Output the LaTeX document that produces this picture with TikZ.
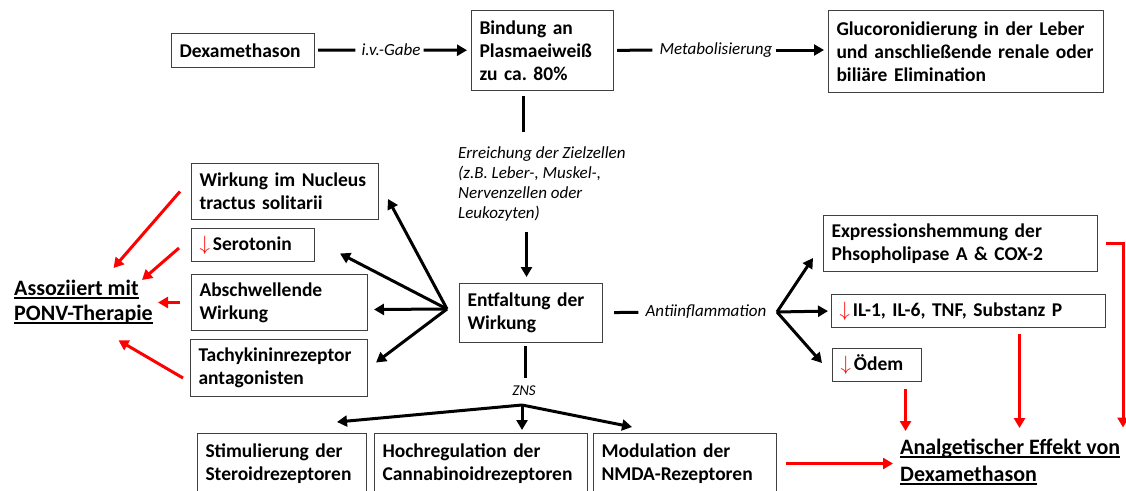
\documentclass[tikz,border=0pt]{standalone}
\usepackage{fontspec}
\setmainfont{Carlito}
\usetikzlibrary{arrows.meta}
\frenchspacing
\newcommand\runter{\textcolor{red}{$\downarrow$}\kern3pt}
\newlength\ulbreite
\newcommand\unterstr[1]{\settowidth\ulbreite{#1}\rlap{\rule[-3pt]{\ulbreite}{1.5pt}}#1}

\begin{document}
\begin{tikzpicture}[x=1pt, y=-1pt,
  kasten/.style={draw=black!75, line width=1pt, anchor=north west, align=left,
    inner xsep=8pt, inner ysep=2pt, font=\fontsize{19.5}{23}\selectfont\bfseries},
  marke/.style={inner sep=3pt, font=\fontsize{17}{20}\selectfont\itshape},
  titel/.style={anchor=north west, align=left, inner sep=3pt,
    font=\fontsize{22}{25}\selectfont\bfseries},
  linie/.style={line width=3pt},
  pfeil/.style={line width=3pt, -{Triangle[length=10pt,width=11pt]}},
  rotpfeil/.style={pfeil, red}]

\useasboundingbox (0,0) rectangle (1126,490);

\node[kasten, text width=127pt, minimum height=34pt] (dexa) at (171,33) {Dexamethason};
\node[kasten, text width=126pt, minimum height=80pt] (bindung) at (471,10) {Bindung an\\Plasmaeiweiß\\zu ca. 80\%};
\node[kasten, text width=259pt, minimum height=82pt] (gluco) at (828,10) {Glucoronidierung in der Leber\\und anschließende renale oder\\biliäre Elimination};
\node[marke] (ivgabe) at (391,50) {i.v.-Gabe};
\node[marke] (metab) at (716,50) {Metabolisierung};
\node[marke, anchor=north west, align=left] (erreich) at (455,143) {Erreichung der Zielzellen\\(z.B. Leber-, Muskel-,\\Nervenzellen oder\\Leukozyten)};
\node[kasten, text width=127pt, minimum height=59pt] (entf) at (459,283) {Entfaltung der\\Wirkung};
\node[marke] (antiinf) at (706,312) {Antiinflammation};
\node[marke, font=\fontsize{15}{17}\selectfont\itshape] (zns) at (524,391) {ZNS};

\node[kasten, text width=171pt, minimum height=56pt] (nucleus) at (191,163) {Wirkung im Nucleus\\tractus solitarii};
\node[kasten, text width=107pt, minimum height=33pt] (sero) at (191,228) {\runter Serotonin};
\node[kasten, text width=160pt, minimum height=56pt] (abschw) at (191,274) {Abschwellende\\Wirkung};
\node[kasten, text width=161pt, minimum height=57pt] (tachy) at (190,339) {Tachykininrezeptor\\antagonisten};
\node[titel] (assoz) at (11,277) {\unterstr{Assoziiert mit}\\\unterstr{PONV-Therapie}};

\node[kasten, text width=258pt, minimum height=56pt] (expr) at (823,215) {Expressionshemmung der\\Phsopholipase A \& COX-2};
\node[kasten, text width=258pt, minimum height=33pt] (il) at (831,294) {\runter IL-1, IL-6, TNF, Substanz P};
\node[kasten, text width=73pt, minimum height=33pt] (oedem) at (832,348) {\runter Ödem};
\node[titel, font=\fontsize{22}{27}\selectfont\bfseries] (analg) at (897,436) {\unterstr{Analgetischer Effekt von}\\\unterstr{Dexamethason}};

\node[kasten, text width=153pt, minimum height=60pt] (stim) at (197,433) {Stimulierung der\\Steroidrezeptoren};
\node[kasten, text width=197pt, minimum height=60pt] (hoch) at (374,433) {Hochregulation der\\Cannabinoidrezeptoren};
\node[kasten, text width=167pt, minimum height=60pt] (modul) at (593,433) {Modulation der\\NMDA-Rezeptoren};

\draw[linie, shorten <=3pt, shorten >=3pt] (dexa) -- (ivgabe);
\draw[pfeil, shorten >=4pt] (ivgabe) -- (bindung);
\draw[linie, shorten <=3pt, shorten >=4pt] (bindung) -- (metab);
\draw[pfeil, shorten >=4pt] (metab) -- (metab -| gluco.west);
\draw[linie] ([xshift=-19pt,yshift=-5pt]bindung.south) -- ++(0,36);
\draw[pfeil] ([xshift=-4.5pt,yshift=51pt]entf.north) -- ([xshift=-4.5pt,yshift=6pt]entf.north);
\draw[linie] ([xshift=-5.5pt,yshift=-3pt]entf.south) -- ++(0,32);
\draw[linie, shorten <=11pt, shorten >=4pt] (entf) -- (antiinf);

\coordinate (gabelR) at (777,312);
\draw[pfeil] (gabelR) -- ([xshift=-10pt,yshift=14pt]expr.south west);
\draw[pfeil, shorten >=3pt] (gabelR) -- (il.west);
\draw[pfeil] (gabelR) -- ([xshift=-10pt,yshift=2pt]oedem.west);

\coordinate (gabelL) at (447,309);
\foreach \ziel/\dx/\dy in {nucleus.south east/9/21, sero.east/25/-8.5, abschw.east/6/-7, tachy.east/8/5.5}
  \draw[pfeil] (gabelL) -- ([xshift=\dx pt,yshift=\dy pt]\ziel);

\coordinate (gabelU) at (522,405);
\draw[pfeil] (gabelU) -- ([xshift=-30pt,yshift=11pt]stim.north east);
\draw[pfeil, shorten >=3pt] (gabelU) -- (gabelU |- hoch.north);
\draw[pfeil] (gabelU) -- ([xshift=39pt,yshift=6pt]modul.north west);

\draw[rotpfeil] ([xshift=8pt]expr.east) -- ++(17,0) -- ++(0,184);
\draw[rotpfeil] ([xshift=51pt,yshift=-6pt]il.south) -- ++(0,94);
\draw[rotpfeil] ([xshift=28.5pt,yshift=-7pt]oedem.south) -- ++(0,42);
\draw[rotpfeil, shorten >=4pt] ([xshift=9pt]modul.east) -- (analg.west |- modul.east);

\draw[rotpfeil] ([xshift=-11pt]nucleus.west) -- ([xshift=30pt,yshift=9pt]assoz.north);
\draw[rotpfeil] ([xshift=-12pt,yshift=-3pt]sero.west) -- ([xshift=-14pt,yshift=-3pt]assoz.north east);
\draw[rotpfeil, shorten >=2pt] ([xshift=-11pt]abschw.west) -- (abschw.west -| assoz.east);
\draw[rotpfeil] ([xshift=-7pt,yshift=-10pt]tachy.west) -- ([xshift=35pt,yshift=-13pt]assoz.south);
\end{tikzpicture}
\end{document}
